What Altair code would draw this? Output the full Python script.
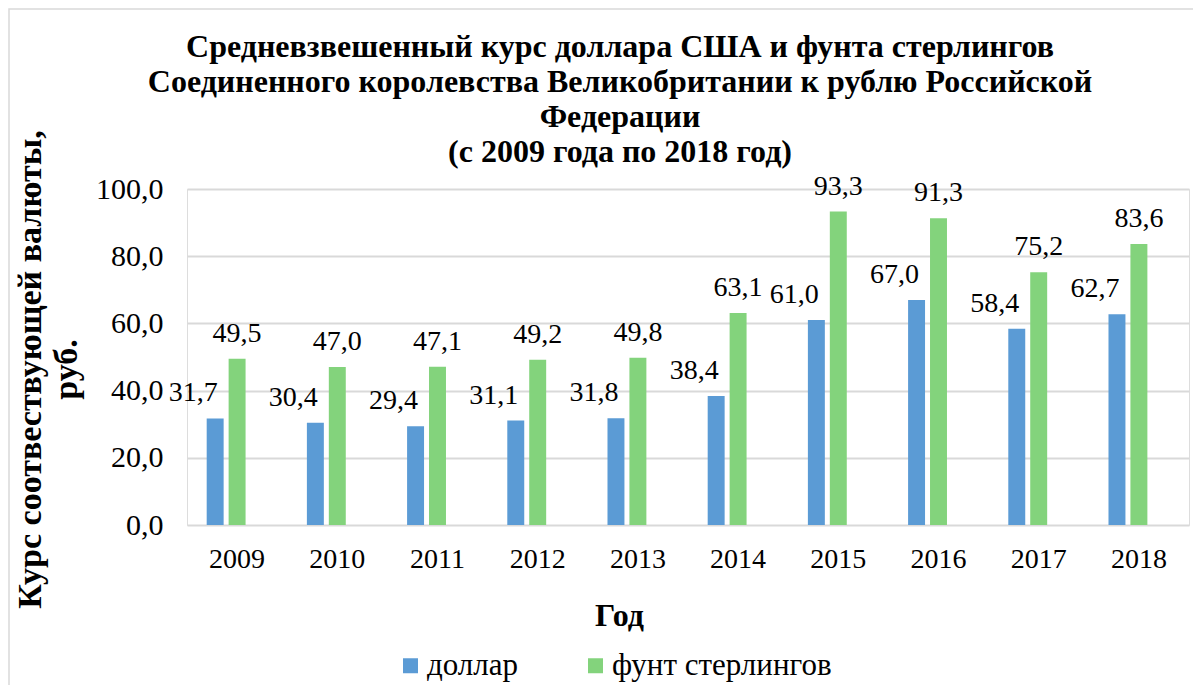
import altair as alt
import pandas as pd

years = ["2009", "2010", "2011", "2012", "2013", "2014", "2015", "2016", "2017", "2018"]
dollar = [31.7, 30.4, 29.4, 31.1, 31.8, 38.4, 61.0, 67.0, 58.4, 62.7]
pound = [49.5, 47.0, 47.1, 49.2, 49.8, 63.1, 93.3, 91.3, 75.2, 83.6]
series = ["доллар", "фунт стерлингов"]
colors = ["#5B9BD5", "#83D37C"]

rows = []
for y, d, p in zip(years, dollar, pound):
    rows.append({"year": y, "series": series[0], "value": d})
    rows.append({"year": y, "series": series[1], "value": p})
df = pd.DataFrame(rows)

FONT = "Liberation Serif"

x_enc = alt.X("year:N", sort=years,
              scale=alt.Scale(paddingInner=0.393, paddingOuter=0.1965),
              axis=alt.Axis(title="Год", labelAngle=0, labelFontSize=28, labelFont=FONT,
                            labelColor="#000", labelPadding=20, ticks=False, domain=False,
                            titleFont=FONT, titleFontSize=32, titleFontWeight="bold",
                            titleColor="#000", titleX=432, titleY=90, titleBaseline="middle",
                            titleAlign="center"))
xo_enc = alt.XOffset("series:N",
                     scale=alt.Scale(domain=series + ["_"], paddingInner=0.227, paddingOuter=0))
y_enc = alt.Y("value:Q", scale=alt.Scale(domain=[0, 100]),
              axis=alt.Axis(title=["Курс соотвествующей валюты,", "руб."],
                            values=[0, 20, 40, 60, 80, 100],
                            labelExpr="replace(format(datum.value, '.1f'), '.', ',')",
                            labelFontSize=30, labelFont=FONT, labelColor="#000",
                            labelPadding=24, ticks=False, domain=False,
                            grid=True, gridColor="#d9d9d9", gridWidth=2,
                            titleFont=FONT, titleFontSize=34, titleFontWeight="bold",
                            titleColor="#000", titleX=-157, titleY=180,
                            titleAngle=-90, titleAlign="center", titleBaseline="middle",
                            titleLineHeight=36))

bars = alt.Chart(df).mark_bar().encode(
    x=x_enc, xOffset=xo_enc, y=y_enc,
    color=alt.Color("series:N", scale=alt.Scale(domain=series, range=colors),
                    legend=alt.Legend(title=None, orient="none", legendX=208, legendY=461,
                                      direction="horizontal", symbolType="square",
                                      symbolSize=225, symbolStrokeWidth=0,
                                      labelFont=FONT, labelFontSize=31, labelColor="#000",
                                      labelOffset=1, columnPadding=61, labelLimit=0)),
)

lab = alt.Chart(df).transform_calculate(
    label="replace(format(datum.value, '.1f'), '.', ',')"
)

text_d = lab.transform_filter(alt.datum.series == series[0]).mark_text(
    font=FONT, fontSize=28, color="#000", baseline="middle", dy=-25, dx=-22
).encode(x=alt.X("year:N", sort=years), xOffset=alt.XOffset("series:N"),
         y="value:Q", text="label:N")
text_p = lab.transform_filter(alt.datum.series == series[1]).mark_text(
    font=FONT, fontSize=28, color="#000", baseline="middle", dy=-25
).encode(x=alt.X("year:N", sort=years), xOffset=alt.XOffset("series:N"),
         y="value:Q", text="label:N")

border = alt.Chart(alt.Data(values=[{"a": 1}])).mark_rect(
    fill=None, stroke="#d9d9d9", strokeWidth=1.5
).encode(x=alt.value(-178), x2=alt.value(1008), y=alt.value(-180), y2=alt.value(502))

chart = alt.layer(border, bars, text_d, text_p).properties(
    width=1002, height=336,
    title=alt.TitleParams(
        ["Средневзвешенный курс доллара США и фунта стерлингов",
         "Соединенного королевства Великобритании к рублю Российской",
         "Федерации",
         "(с 2009 года по 2018 год)"],
        font=FONT, fontSize=32, fontWeight="bold", color="#000",
        anchor="middle", dx=-68, lineHeight=35, offset=-161),
    autosize=alt.AutoSizeParams(type="none"),
    padding={"left": 179, "top": 181, "right": 4, "bottom": 160},
).configure_view(stroke=None).configure(background="white")

chart.save("out.html", embed_options={"renderer": "svg", "actions": False})
